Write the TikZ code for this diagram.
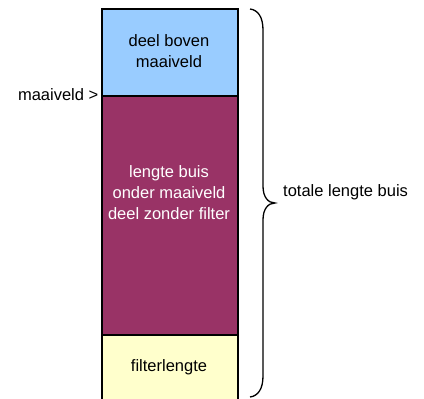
\documentclass[tikz,border=0pt]{standalone}
\usepackage{fontspec}
\setmainfont{Liberation Sans}
\definecolor{boven}{HTML}{99CCFF}
\definecolor{onder}{HTML}{993366}
\definecolor{filter}{HTML}{FFFFCC}
\begin{document}
\begin{tikzpicture}[x=1pt,y=-1pt,
  part/.style={draw=black, line width=2pt, rectangle, minimum width=136pt, inner sep=0pt, font=\fontsize{16.5}{21}\selectfont, align=center},
  lbl/.style={font=\fontsize{16.5}{21}\selectfont, inner sep=0pt, align=center}]
\useasboundingbox (0,0) rectangle (424,399);
\begin{scope}
\clip (0,0) rectangle (424,399);
\node[part, fill=boven, minimum height=87pt, anchor=north west] (boven) at (101,8) {};
\node[part, fill=onder, minimum height=239pt, anchor=north west] (onder) at (101,95) {};
\node[part, fill=filter, minimum height=76pt, anchor=north west] (filter) at (101,334) {};
\end{scope}
\node[lbl] (tboven) at (169,51) {deel boven\\maaiveld};
\node[lbl, text=white] (tonder) at (169,193) {lengte buis\\onder maaiveld\\deel zonder filter};
\node[lbl] (tfilter) at (169,367) {filterlengte};
\node[lbl, anchor=east] (mv) at (98.5,95) {maaiveld >};
\draw[line width=1.3pt]
  (250,9) .. controls (258,10) and (263,17) .. (263,30)
  -- (263,186) .. controls (263,197) and (268,203) .. (275,203)
  .. controls (268,203) and (263,209) .. (263,220)
  -- (263,376) .. controls (263,389) and (258,396) .. (250,397);
\coordinate (tip) at (275,203);
\node[lbl, anchor=west] (totaal) at (283,192) {totale lengte buis};
\end{tikzpicture}
\end{document}
